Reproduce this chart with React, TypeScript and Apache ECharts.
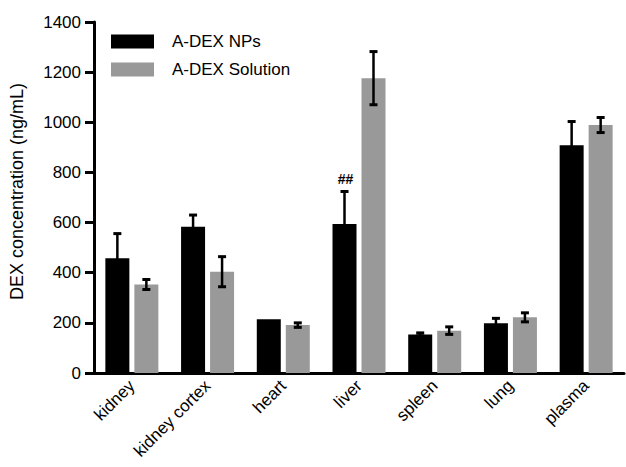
import React, { useEffect, useRef } from "react";
import * as echarts from "echarts";

const categories = ["kidney", "kidney cortex", "heart", "liver", "spleen", "lung", "plasma"];
const npsMean = [458, 583, 214, 594, 154, 198, 908];
const npsErr = [98, 47, 0, 130, 6, 20, 95];
const solMean = [353, 404, 191, 1176, 169, 222, 989];
const solErr = [20, 60, 9, 106, 15, 18, 30];
const npsMarks = ["", "", "", "##", "", "", ""];
const seriesNames = ["A-DEX NPs", "A-DEX Solution"];
const yTicks = [0, 200, 400, 600, 800, 1000, 1200, 1400];

const FONT = '"Liberation Sans", Arial, sans-serif';
const BAR_W = 24;
const BAR_GAP = 5;

function errSeries(name: string, means: number[], errs: number[], marks: string[], offset: number) {
  return {
    type: "custom",
    name: name + " err",
    silent: true,
    z: 5,
    data: means.map((m, i) => [i, m, errs[i]]),
    renderItem: (params: any, api: any) => {
      const i = api.value(0);
      const m = api.value(1);
      const e = api.value(2);
      const mark = marks[i];
      const top = api.coord([i, m + e]);
      const bot = api.coord([i, m - e]);
      const cx = top[0] + offset;
      const cap = 4;
      const children: any[] = [];
      if (e > 0) {
        children.push(
          { type: "line", shape: { x1: cx, y1: top[1], x2: cx, y2: bot[1] }, style: { stroke: "#000", lineWidth: 2.5 } },
          { type: "line", shape: { x1: cx - cap, y1: top[1], x2: cx + cap, y2: top[1] }, style: { stroke: "#000", lineWidth: 3 } },
          { type: "line", shape: { x1: cx - cap, y1: bot[1], x2: cx + cap, y2: bot[1] }, style: { stroke: "#000", lineWidth: 3 } }
        );
      }
      if (mark) {
        children.push({
          type: "text",
          x: cx + 1,
          y: top[1] - 12,
          style: { text: mark, fill: "#000", font: `bold 14px ${FONT}`, align: "center", verticalAlign: "middle" },
        });
      }
      return { type: "group", children };
    },
  };
}

export default function App() {
  const ref = useRef<HTMLDivElement>(null);
  useEffect(() => {
    if (!ref.current) return;
    const chart = echarts.init(ref.current, null, { renderer: "svg" });
    chart.setOption({
      animation: false,
      backgroundColor: "#fff",
      textStyle: { fontFamily: FONT },
      legend: {
        data: seriesNames,
        orient: "vertical",
        left: 111,
        top: 33,
        icon: "rect",
        itemWidth: 43,
        itemHeight: 14,
        itemGap: 11,
        padding: 0,
        textStyle: { fontSize: 17, color: "#000", fontFamily: FONT, padding: [0, 0, 0, 13] },
      },
      grid: { left: 94, right: 2, top: 22, bottom: 94, containLabel: false },
      xAxis: {
        type: "category",
        data: categories,
        axisLine: { lineStyle: { color: "#000", width: 3 } },
        axisTick: { alignWithLabel: true, length: 9, lineStyle: { color: "#000", width: 3 } },
        axisLabel: { rotate: 45, fontSize: 17, color: "#000", margin: 10, fontFamily: FONT },
      },
      yAxis: {
        type: "value",
        min: yTicks[0],
        max: yTicks[yTicks.length - 1],
        interval: 200,
        name: "DEX concentration (ng/mL)",
        nameLocation: "middle",
        nameGap: 68,
        nameTextStyle: { fontSize: 18, color: "#000", fontFamily: FONT, padding: [0, 0, 0, 12] },
        axisLine: { show: true, lineStyle: { color: "#000", width: 3 } },
        axisTick: { show: true, length: 9, lineStyle: { color: "#000", width: 3 } },
        axisLabel: { fontSize: 17, color: "#000", margin: 13, fontFamily: FONT, formatter: (v: number) => String(v) },
        splitLine: { show: false },
      },
      series: [
        {
          type: "bar",
          name: seriesNames[0],
          data: npsMean,
          barWidth: BAR_W,
          barGap: `${(BAR_GAP / BAR_W) * 100}%`,
          itemStyle: { color: "#000" },
        },
        {
          type: "bar",
          name: seriesNames[1],
          data: solMean,
          barWidth: BAR_W,
          itemStyle: { color: "#999999" },
        },
        errSeries(seriesNames[0], npsMean, npsErr, npsMarks, -(BAR_W + BAR_GAP) / 2),
        errSeries(seriesNames[1], solMean, solErr, ["", "", "", "", "", "", ""], (BAR_W + BAR_GAP) / 2),
      ],
    });
    return () => chart.dispose();
  }, []);
  return <div ref={ref} style={{ width: 626, height: 467, position: "absolute", left: 0, top: 0 }} />;
}
